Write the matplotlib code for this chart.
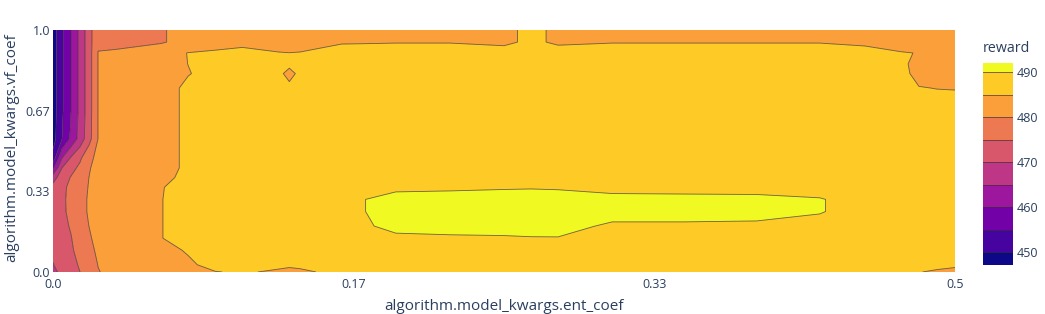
import numpy as np
import matplotlib
matplotlib.use("Agg")
import matplotlib.pyplot as plt

# ---- data ----
ent_coef = [0.0, 0.005, 0.01, 0.015, 0.02, 0.025, 0.035, 0.06, 0.075, 0.09,
            0.105, 0.125, 0.131, 0.137, 0.16, 0.172, 0.19, 0.22, 0.25, 0.265,
            0.28, 0.31, 0.35, 0.39, 0.425, 0.45, 0.47, 0.48, 0.49, 0.5]
vf_coef = [0.0, 0.03, 0.09, 0.14, 0.19, 0.25, 0.3, 0.35, 0.39, 0.43,
           0.47, 0.55, 0.67, 0.76, 0.82, 0.86, 0.905, 0.95, 1.0]

reward = [
    [468.5, 471.5, 473, 475, 477.5, 479.8, 481.5, 483, 484, 484.9,
     485.3, 484.6, 484.2, 484.5, 485.8, 486.5, 487, 487, 487, 487,
     487, 487, 487, 487, 487, 486.5, 486, 485.1, 484.6, 484.2],
    [469.8, 472, 473.6, 475.5, 477.8, 480.1, 482, 483.5, 484.5, 486,
     486.3, 485.6, 485.5, 485.6, 486.5, 487, 487.5, 487.5, 487.5, 487.5,
     487.5, 487.5, 487.5, 487.5, 487.5, 487, 486.5, 486, 485.8, 485.5],
    [471, 473, 474.4, 476.5, 478.8, 480.8, 482.5, 484, 485.3, 486.5,
     487, 487, 487, 487, 487.5, 487.5, 487.5, 487.5, 487.5, 487.5,
     487.5, 487.5, 487.5, 487.5, 487.5, 487.5, 487.5, 487, 487, 487],
    [471.5, 473.5, 474.8, 477.5, 479.3, 481.8, 482.5, 484.9, 486.5, 487,
     487, 487, 487, 487, 487.5, 488, 489.3, 489.5, 489.6, 489.8,
     489.85, 488.8, 488.3, 488, 487.8, 487.5, 487.5, 487.5, 487.5, 487.5],
    [472, 473.8, 475.4, 478, 480.05, 482, 482.5, 484.9, 486.5, 487,
     487, 487, 487, 487, 487.5, 489.5, 491, 491.3, 491.5, 491.5,
     491.3, 489.4, 489.4, 489.3, 488.5, 487.8, 487.5, 487.5, 487.5, 487.5],
    [472, 474.2, 476, 478.5, 480.5, 482, 482.5, 484.9, 486.5, 487,
     487, 487, 487, 487, 487.5, 489.9, 491.3, 491.5, 491.5, 491.5,
     491.5, 491.5, 491.5, 491.3, 490.3, 488, 487.5, 487.5, 487.5, 487.5],
    [472, 474.3, 476, 478.5, 480.5, 482, 482.5, 484.9, 486.5, 487,
     487, 487, 487, 487, 487.5, 489.9, 491.3, 491.5, 491.5, 491.5,
     491.5, 491.5, 491.5, 491.3, 490.3, 488, 487.5, 487.5, 487.5, 487.5],
    [471.5, 474, 476, 478, 480.3, 482, 482.5, 484.8, 486.5, 487,
     487, 487, 487, 487, 487.5, 488.5, 489.2, 489.36, 489.67, 489.76,
     489.62, 488.4, 488.1, 488.1, 488, 487.5, 487.5, 487.5, 487.5, 487.5],
    [468, 472.5, 475.3, 477, 480.05, 481.9, 482.5, 484, 486, 487,
     487, 487, 487, 487, 487, 487, 487, 487, 487, 487,
     487, 487, 487, 487, 487, 487, 487, 487, 487, 487],
    [459, 470, 473.5, 476, 479.6, 481.8, 482.5, 483, 486, 487,
     487, 487, 487, 487, 487, 487, 487, 487, 487, 487,
     487, 487, 487, 487, 487, 487, 487, 487, 487, 487],
    [452, 465, 470.7, 474.3, 478.6, 481.5, 482.5, 483, 486, 487,
     487, 487, 487, 487, 487, 487, 487, 487, 487, 487,
     487, 487, 487, 487, 487, 487, 487, 487, 487, 487],
    [447.8, 455, 461, 467, 473.3, 480.1, 482.5, 483, 486, 487,
     487, 487, 487, 487, 487, 487, 487, 487, 487, 487,
     487, 487, 487, 487, 487, 487, 487, 487, 487, 487],
    [447.5, 454.3, 460, 466.4, 472.9, 480.1, 482.5, 483, 486, 487,
     487, 487, 487, 487, 487, 487, 487, 487, 487, 487,
     487, 487, 487, 487, 487, 487, 487, 487, 487, 487],
    [447.5, 454.3, 460, 466.4, 472.9, 480.1, 482.5, 483, 486, 487,
     487, 487, 487, 487, 487, 487, 487, 487, 487, 487,
     487, 487, 487, 487, 487, 487, 487, 485.2, 484.9, 484.8],
    [447.5, 454.3, 460, 466.4, 472.9, 480.1, 482.5, 483, 484.8, 486.5,
     487, 487, 482.5, 487, 487, 487, 487, 487, 487, 487,
     487, 487, 487, 487, 487, 487, 486.5, 483.5, 483.5, 483.5],
    [447.5, 454.3, 460, 466.4, 472.9, 480.1, 482.5, 483, 485.05, 486.5,
     487, 487, 487, 487, 487, 487, 487, 487, 487, 487,
     487, 487, 487, 487, 487, 487, 486, 483.5, 483.5, 483.5],
    [447.5, 454.3, 460, 466.4, 472.9, 480.1, 481.5, 483.5, 485.1, 485.7,
     487.1, 485.2, 485.05, 485.2, 487.3, 487.3, 487, 487, 487, 487.5,
     487, 487, 487, 487, 487, 485.9, 485.2, 484.9, 484, 483.8],
    [447.5, 454.3, 460, 466.4, 472.9, 479.5, 477, 479.5, 482, 483,
     483, 483, 483, 483, 484.5, 484.6, 484.8, 484.8, 484.0, 486,
     484.2, 484.8, 484.8, 484.8, 484.8, 484.5, 483.5, 484, 484, 484],
    [447.5, 454.3, 460, 466.4, 472.9, 479.5, 477, 479.5, 482, 483,
     483, 483, 483, 483, 483, 483, 483, 483, 484.0, 486,
     484.2, 483, 483, 483, 483, 483, 483, 483, 483, 483],
]

contour_levels = [450, 455, 460, 465, 470, 475, 480, 485, 490]
reward_min = 447.2
reward_max = 492.0
plasma = ["#0d0887", "#46039f", "#7201a8", "#9c179e", "#bd3786",
          "#d8576b", "#ed7953", "#fb9f3a", "#fdca26", "#f0f921"]

x_ticks = [0.0, 1 / 6, 1 / 3, 0.5]
x_ticklabels = ["0.0", "0.17", "0.33", "0.5"]
y_ticks = [0.0, 1 / 3, 2 / 3, 1.0]
y_ticklabels = ["0.0", "0.33", "0.67", "1.0"]
cbar_ticks = [450, 460, 470, 480, 490]

# ---- drawing ----
FONT = "Open Sans"
TXT = "#2a3f5f"
W, H = 1045, 314
fig = plt.figure(figsize=(W / 100, H / 100), dpi=100)

ax = fig.add_axes([53 / W, 42 / H, 902 / W, 242 / H])
X = np.array(ent_coef)
Y = np.array(vf_coef)
Z = np.array(reward)
bounds = [reward_min] + contour_levels + [reward_max]
ax.contourf(X, Y, Z, levels=bounds, colors=plasma, antialiased=True)
ax.contour(X, Y, Z, levels=contour_levels, colors="#3b3030",
           linewidths=0.6, alpha=0.75)
ax.set_xlim(0, 0.5)
ax.set_ylim(0, 1)
for s in ax.spines.values():
    s.set_visible(False)
ax.set_xticks(x_ticks)
ax.set_xticklabels(x_ticklabels, fontfamily=FONT, fontsize=9, color=TXT)
ax.set_yticks(y_ticks)
ax.set_yticklabels(y_ticklabels, fontfamily=FONT, fontsize=9, color=TXT)
ax.tick_params(axis="both", length=0)
ax.tick_params(axis="x", pad=4)
ax.tick_params(axis="y", pad=2)

fig.text(504 / W, 1 - 306 / H, "algorithm.model_kwargs.ent_coef",
         ha="center", va="center", fontfamily=FONT, fontsize=11, color=TXT)
fig.text(12 / W, 1 - 148 / H, "algorithm.model_kwargs.vf_coef",
         ha="center", va="center", rotation=90, fontfamily=FONT,
         fontsize=11, color=TXT)

# colorbar
cax = fig.add_axes([983 / W, (H - 265) / H, 30 / W, 202 / H])
for i in range(len(plasma)):
    cax.axhspan(bounds[i], bounds[i + 1], color=plasma[i], lw=0)
for lv in contour_levels:
    cax.axhline(lv, color="#3b3030", lw=0.6, alpha=0.75)
cax.set_ylim(reward_min, reward_max)
cax.set_xlim(0, 1)
cax.set_xticks([])
cax.yaxis.tick_right()
cax.set_yticks(cbar_ticks)
cax.set_yticklabels([str(t) for t in cbar_ticks], fontfamily=FONT,
                    fontsize=9, color=TXT)
cax.tick_params(axis="y", length=0, pad=3)
for s in cax.spines.values():
    s.set_visible(False)
fig.text(983 / W, 1 - 48 / H, "reward", ha="left", va="center",
         fontfamily=FONT, fontsize=10.3, color=TXT)

fig.savefig("out.png", dpi=100)
